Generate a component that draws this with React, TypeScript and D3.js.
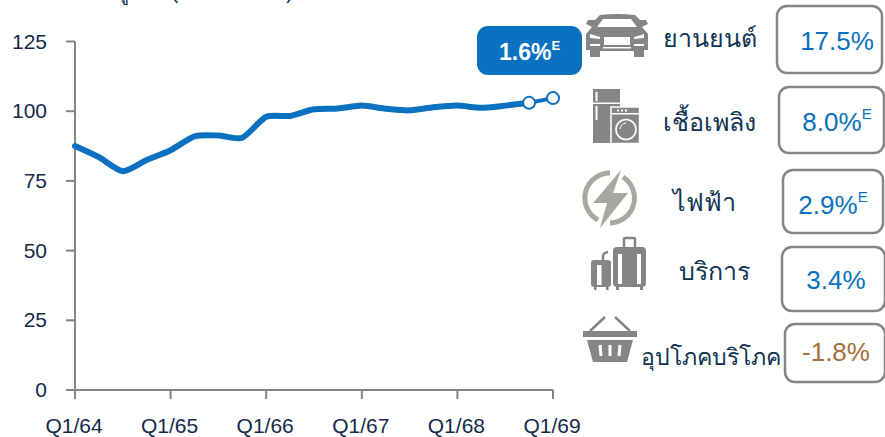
import React from "react";
import * as d3 from "d3";

const quarterValues = [87.5, 83.5, 78.5, 82.5, 86, 91, 91.3, 90.5, 98, 98.3, 100.7, 101, 102, 100.9, 100.3, 101.4, 102, 101.2, 102, 103, 104.7];
const yTicks = [0, 25, 50, 75, 100, 125];
const xTickLabels = ["Q1/64", "Q1/65", "Q1/66", "Q1/67", "Q1/68", "Q1/69"];
const categories = ["ยานยนต์", "เชื้อเพลิง", "ไฟฟ้า", "บริการ", "อุปโภคบริโภค"];
const catValues = ["17.5%", "8.0%", "2.9%", "3.4%", "-1.8%"];
const catSup = ["", "E", "E", "", ""];
const catX = [710, 709, 704, 714, 711];
const catY = [38, 122, 202, 271, 356];
const boxes = [[777, 6, 105, 67], [779, 87, 105, 66], [783, 170, 100, 63], [782, 247, 103, 64], [785, 324, 100, 58]];
const valueX = [837, 837, 833, 836, 836];
const valueY = [41, 122, 205, 280, 352];

const x = d3.scaleLinear().domain([0, 20]).range([75, 553]);
const y = d3.scaleLinear().domain([0, 125]).range([390, 41.5]);
const line = d3.line<number>().x((_, i) => x(i)).y((d) => y(d)).curve(d3.curveCardinal.tension(0.3));
const font = "'Liberation Sans', Arial, sans-serif";
const GRAY = "#858585";
const NAVY = "#14294a";
const BLUE = "#0a70c0";

const Car = () => (
  <g fill={GRAY}>
    <path d="M600 15 Q617 13 635 15 L640 20 L646 20 L648 24 L642 27 L648 34 L648 50 L644 50 L644 57 L634 57 L634 51 L600 51 L600 57 L590 57 L590 50 L586 50 L586 34 L592 27 L586 24 L588 20 L595 20 Z" />
    <path d="M603 19 L631 19 L637 27 L597 27 Z" fill="#fff" />
    <path d="M590 34 L600 37 L600 39 L590 38 Z" fill="#fff" />
    <path d="M644 34 L634 37 L634 39 L644 38 Z" fill="#fff" />
    <rect x="604" y="37" width="26" height="8" fill="#fff" />
    <rect x="590" y="44" width="10" height="2" fill="#fff" />
    <rect x="634" y="44" width="10" height="2" fill="#fff" />
    <rect x="603" y="47" width="28" height="1.5" fill="#fff" />
  </g>
);
const Appliance = () => (
  <g fill={GRAY}>
    <rect x="593" y="89" width="27" height="13.5" />
    <rect x="593" y="104" width="27" height="39" />
    <rect x="595.5" y="92" width="2" height="9" fill="#fff" />
    <rect x="595.5" y="106" width="2" height="14" fill="#fff" />
    <rect x="611" y="107" width="28.5" height="36.5" stroke="#fff" strokeWidth="1.5" />
    <rect x="612" y="113" width="27" height="1.5" fill="#fff" />
    <rect x="617" y="109.5" width="2" height="2" fill="#fff" />
    <rect x="621" y="109.5" width="2" height="2" fill="#fff" />
    <rect x="625" y="109.5" width="2" height="2" fill="#fff" />
    <circle cx="626" cy="129.5" r="10" fill="none" stroke="#fff" strokeWidth="1.6" />
    <path d="M620 129 A6.5 6.5 0 0 1 626 123" fill="none" stroke="#fff" strokeWidth="1" />
  </g>
);
const Bolt = () => (
  <g fill="#a8a8a2">
    <path d="M621 170 L593 203 L607 203 L600 228 L628 193 L613 193 Z" />
    <path d="M610 173 A25 25 0 0 0 598 220" fill="none" stroke="#a8a8a2" strokeWidth="5" />
    <path d="M623 177 A25 25 0 0 1 610 223" fill="none" stroke="#a8a8a2" strokeWidth="5" />
  </g>
);
const Bags = () => (
  <g fill={GRAY}>
    <rect x="591" y="260" width="20" height="27" rx="3" />
    <rect x="594" y="286" width="2.5" height="4" />
    <rect x="606" y="286" width="2.5" height="4" />
    <path d="M603 260 V256 Q603 253 608 252" fill="none" stroke={GRAY} strokeWidth="2.5" />
    <rect x="613" y="247" width="33" height="40" rx="4" />
    <rect x="616" y="286" width="3" height="4" />
    <rect x="640" y="286" width="3" height="4" />
    <path d="M624 247 V239 Q624 238 626 238 H633 Q635 238 635 239 V247" fill="none" stroke={GRAY} strokeWidth="2.5" />
    <rect x="597" y="265" width="4.5" height="20" fill="#fff" />
    <rect x="618" y="254" width="4" height="30" fill="#fff" />
    <rect x="637" y="254" width="4" height="30" fill="#fff" />
  </g>
);
const Basket = () => (
  <g fill={GRAY}>
    <path d="M590 331 L605 317 M630 331 L615 317" stroke={GRAY} strokeWidth="2.5" fill="none" />
    <rect x="583" y="331" width="54" height="6" />
    <path d="M587 340 H633 L627 362 H593 Z" />
    <path d="M600 345 L601 356 M610 345 V356 M620 345 L619 356" stroke="#fff" strokeWidth="3" fill="none" />
  </g>
);

export default function App() {
  const n = quarterValues.length;
  const solid = quarterValues.slice(0, n - 1);
  return (
    <svg width={885} height={437} style={{ position: "absolute", left: 0, top: 0, background: "#fff" }} fontFamily={font}>
      <text x={76} y={-1} fontSize={20} fill={NAVY}>ดัชนีผู้ผลิต (ปี 2564=100)</text>
      <line x1={75} x2={75} y1={y(125)} y2={y(0)} stroke={GRAY} strokeWidth={2} />
      <line x1={66} x2={x(20)} y1={y(0)} y2={y(0)} stroke={GRAY} strokeWidth={2} />
      {yTicks.map((t) => (
        <g key={t}>
          <line x1={66} x2={75} y1={y(t)} y2={y(t)} stroke={GRAY} strokeWidth={2} />
          <text x={47} y={y(t) + 7} textAnchor="end" fontSize={21} fill={NAVY}>{t}</text>
        </g>
      ))}
      {xTickLabels.map((l, i) => (
        <g key={l}>
          <line x1={x(i * 4)} x2={x(i * 4)} y1={390} y2={399} stroke={GRAY} strokeWidth={2} />
          <text x={x(i * 4) - 1} y={433} textAnchor="middle" fontSize={21} fill={NAVY}>{l}</text>
        </g>
      ))}
      <path d={line(solid) ?? ""} fill="none" stroke={BLUE} strokeWidth={6} strokeLinecap="round" />
      <path d={d3.line<number>().x((d, i) => x(n - 2 + i)).y((d) => y(d))(quarterValues.slice(n - 2)) ?? ""} fill="none" stroke={BLUE} strokeWidth={4} />
      {[n - 2, n - 1].map((i) => (
        <circle key={i} cx={x(i)} cy={y(quarterValues[i])} r={6} fill="#fff" stroke={BLUE} strokeWidth={2} />
      ))}
      <rect x={477} y={26} width={105} height={49} rx={11} fill={BLUE} />
      <text x={499} y={60} fontSize={23} fontWeight={700} fill="#fff">1.6%<tspan fontSize={13} dy={-10}>E</tspan></text>
      <Car /><Appliance /><Bolt /><Bags /><Basket />
      {categories.map((c, i) => (
        <text key={c} x={catX[i]} y={catY[i] + 9} textAnchor="middle" fontSize={i === 4 ? 23 : 25} fill="#0f3352">{c}</text>
      ))}
      {boxes.map((b, i) => (
        <rect key={i} x={b[0]} y={b[1]} width={b[2]} height={b[3]} rx={10} fill="#fff" stroke={GRAY} strokeWidth={2.5} />
      ))}
      {catValues.map((v, i) => (
        <text key={i} x={valueX[i]} y={valueY[i] + 9} textAnchor="middle" fontSize={26} fill={v.startsWith("-") ? "#a4703a" : BLUE}>
          {v}
          {catSup[i] ? <tspan fontSize={15} dy={-12}>{catSup[i]}</tspan> : null}
        </text>
      ))}
    </svg>
  );
}
